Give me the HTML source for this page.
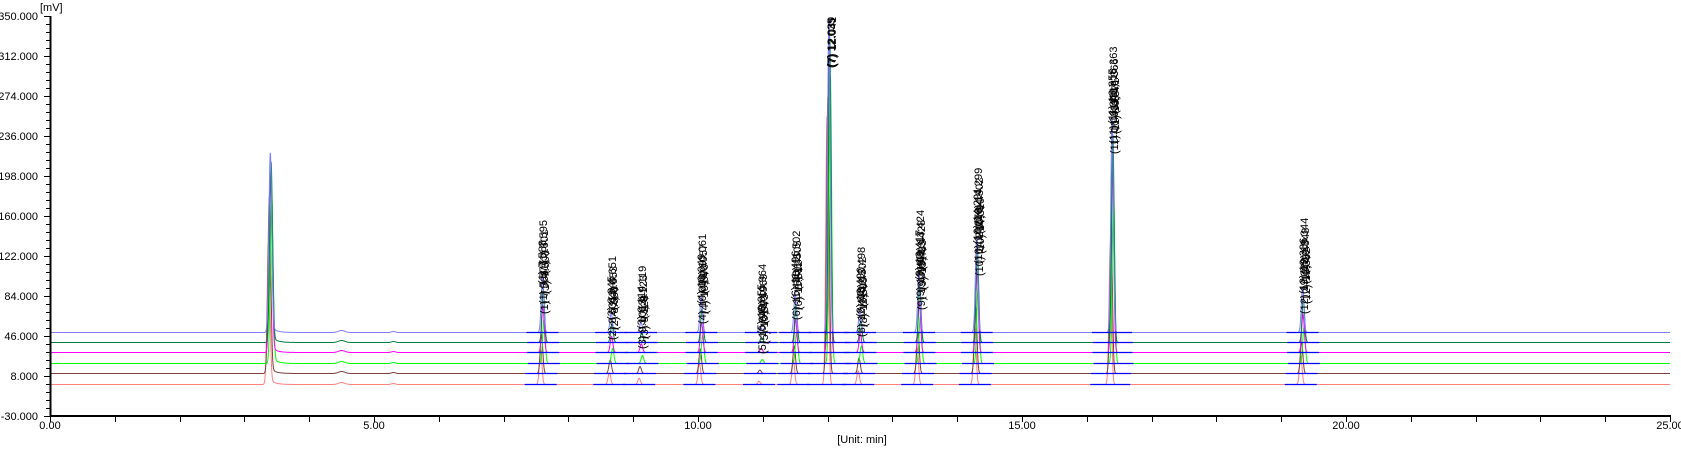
<!DOCTYPE html>
<html><head><meta charset="utf-8"><style>
html,body{margin:0;padding:0;background:#fff;}
svg{display:block;font-family:"Liberation Sans",sans-serif;}
.ax{font-size:11px;fill:#000;}
.pl text{font-size:11px;fill:#000;}
</style></head><body>
<svg id="s" width="1681" height="450" viewBox="0 0 1681 450" xmlns="http://www.w3.org/2000/svg">
<rect width="1681" height="450" fill="#fff"/>
<g id="tr"></g>
<g id="ticks" stroke="#000" stroke-width="1" shape-rendering="crispEdges"></g>
<line x1="50.5" y1="16" x2="50.5" y2="416" stroke="#000" stroke-width="2"/>
<line x1="50" y1="416" x2="1671" y2="416" stroke="#000" stroke-width="2"/>
<g class="ax" text-anchor="end">
<text x="38" y="20">350.000</text>
<text x="38" y="60">312.000</text>
<text x="38" y="100">274.000</text>
<text x="38" y="140">236.000</text>
<text x="38" y="180">198.000</text>
<text x="38" y="220">160.000</text>
<text x="38" y="260">122.000</text>
<text x="38" y="300">84.000</text>
<text x="38" y="340">46.000</text>
<text x="38" y="380">8.000</text>
<text x="38" y="420">-30.000</text>
</g>
<text class="ax" x="40" y="11">[mV]</text>
<g class="ax" text-anchor="middle">
<text x="50" y="429">0.00</text>
<text x="374" y="429">5.00</text>
<text x="698" y="429">10.00</text>
<text x="1022" y="429">15.00</text>
<text x="1346" y="429">20.00</text>
<text x="1670" y="429">25.00</text>
<text x="862" y="443">[Unit: min]</text>
</g>
<g class="pl">
<g transform="translate(547,274)"><text transform="translate(0,-10) rotate(-90)">(1) 7.595</text><text transform="translate(1,0) rotate(-90)">(1) 7.601</text><text transform="translate(-1,10) rotate(-90)">(1) 7.588</text><text transform="translate(2,20) rotate(-90)">(1) 7.603</text><text transform="translate(0,30) rotate(-90)">(1) 7.577</text><text transform="translate(1,40) rotate(-90)">(1) 7.566</text></g>
<g transform="translate(616,310)"><text transform="translate(0,-10) rotate(-90)">(2) 8.651</text><text transform="translate(1,0) rotate(-90)">(2) 8.653</text><text transform="translate(-1,10) rotate(-90)">(2) 8.645</text><text transform="translate(2,20) rotate(-90)">(2) 8.660</text><text transform="translate(0,30) rotate(-90)">(2) 8.631</text></g>
<g transform="translate(646,319)"><text transform="translate(0,-10) rotate(-90)">(3) 9.119</text><text transform="translate(1,0) rotate(-90)">(3) 9.123</text><text transform="translate(-1,10) rotate(-90)">(3) 9.114</text><text transform="translate(2,20) rotate(-90)">(3) 9.128</text><text transform="translate(0,30) rotate(-90)">(3) 9.101</text></g>
<g transform="translate(706,294)"><text transform="translate(0,-10) rotate(-90)">(4) 10.061</text><text transform="translate(1,0) rotate(-90)">(4) 10.057</text><text transform="translate(-1,10) rotate(-90)">(4) 10.049</text><text transform="translate(2,20) rotate(-90)">(4) 10.070</text><text transform="translate(0,30) rotate(-90)">(4) 10.038</text></g>
<g transform="translate(766,324)"><text transform="translate(0,-10) rotate(-90)">(5) 10.964</text><text transform="translate(1,0) rotate(-90)">(5) 10.969</text><text transform="translate(-1,10) rotate(-90)">(5) 10.955</text><text transform="translate(2,20) rotate(-90)">(5) 10.973</text><text transform="translate(0,30) rotate(-90)">(5) 10.940</text></g>
<g transform="translate(800,290)"><text transform="translate(0,-10) rotate(-90)">(6) 11.502</text><text transform="translate(1,0) rotate(-90)">(6) 11.505</text><text transform="translate(-1,10) rotate(-90)">(6) 11.496</text><text transform="translate(2,20) rotate(-90)">(6) 11.512</text><text transform="translate(0,30) rotate(-90)">(6) 11.480</text></g>
<g transform="translate(835,67)"><text transform="rotate(-90)">(7) 12.039</text><text transform="translate(1,0) rotate(-90)">(7) 12.041</text><text transform="translate(0,1) rotate(-90)">(7) 12.035</text></g>
<g transform="translate(865,307)"><text transform="translate(0,-10) rotate(-90)">(8) 12.498</text><text transform="translate(1,0) rotate(-90)">(8) 12.502</text><text transform="translate(-1,10) rotate(-90)">(8) 12.490</text><text transform="translate(2,20) rotate(-90)">(8) 12.509</text><text transform="translate(0,30) rotate(-90)">(8) 12.476</text></g>
<g transform="translate(924,270)"><text transform="translate(0,-10) rotate(-90)">(9) 13.424</text><text transform="translate(1,0) rotate(-90)">(9) 13.428</text><text transform="translate(-1,10) rotate(-90)">(9) 13.417</text><text transform="translate(2,20) rotate(-90)">(9) 13.433</text><text transform="translate(0,30) rotate(-90)">(9) 13.401</text><text transform="translate(1,40) rotate(-90)">(9) 13.395</text></g>
<g transform="translate(982,234)"><text transform="translate(0,-10) rotate(-90)">(10) 14.299</text><text transform="translate(1,0) rotate(-90)">(10) 14.302</text><text transform="translate(-1,10) rotate(-90)">(10) 14.291</text><text transform="translate(2,20) rotate(-90)">(10) 14.310</text><text transform="translate(0,30) rotate(-90)">(10) 14.278</text><text transform="translate(1,42) rotate(-90)">(10) 14.270</text></g>
<g transform="translate(1117,114)"><text transform="translate(0,-12) rotate(-90)">(11) 16.363</text><text transform="translate(1,0) rotate(-90)">(11) 16.366</text><text transform="translate(-1,10) rotate(-90)">(11) 16.355</text><text transform="translate(2,20) rotate(-90)">(11) 16.371</text><text transform="translate(0,30) rotate(-90)">(11) 16.340</text><text transform="translate(1,40) rotate(-90)">(11) 16.333</text></g>
<g transform="translate(1308,284)"><text transform="translate(0,-10) rotate(-90)">(12) 19.344</text><text transform="translate(1,0) rotate(-90)">(12) 19.348</text><text transform="translate(-1,10) rotate(-90)">(12) 19.336</text><text transform="translate(2,20) rotate(-90)">(12) 19.352</text><text transform="translate(0,30) rotate(-90)">(12) 19.320</text></g>
</g>
</svg>
<script>
(function(){
var NS="http://www.w3.org/2000/svg";
function X(t){return 50+64.8*t;}
var tk=document.getElementById('ticks');
function ln(x1,y1,x2,y2,c,w){var l=document.createElementNS(NS,'line');l.setAttribute('x1',x1);l.setAttribute('y1',y1);l.setAttribute('x2',x2);l.setAttribute('y2',y2);if(c)l.setAttribute('stroke',c);if(w)l.setAttribute('stroke-width',w);return l;}
for(var i=0;i<=50;i++){var y=16+i*8;var maj=(i%5==0);tk.appendChild(ln(maj?44:46,y+0.5,50,y+0.5));}
for(var t=0;t<=25;t++){var x=Math.round(X(t))+0.5;tk.appendChild(ln(x,416,x,422));}
var base=[332,342,352,363,373,384];
var cols=['#7f7fff','#00803c','#ff00ff','#00ff00','#7f3f3f','#ff7f7f'];
var fac=[1,0.97,0.85,0.8,0.7,0.62];
var toff=[0,0.012,0.006,0.022,-0.015,-0.028];
var peaks=[[7.60,55],[8.66,19],[9.12,10],[10.05,35],[10.97,5],[11.50,39],[12.02,316],[12.50,22],[13.41,59],[14.30,95],[16.39,215],[19.33,45]];
var solv=[180,181,174,166,177,141];
var tr=document.getElementById('tr');
for(var k=5;k>=0;k--){
  var d='';
  for(var px=50;px<=1670;px+=0.25){
    var t=(px-50)/64.8, v=0;
    var ts=3.4+toff[k];
    v+=solv[k]*Math.exp(-Math.pow((t-ts)/0.022,2)/2);
    if(t>ts) v+=6*Math.exp(-(t-ts)/0.08)*(t-ts>0.03?1:0);
    v+=2*Math.exp(-Math.pow((t-4.5)/0.05,2)/2);
    v+=1*Math.exp(-Math.pow((t-5.3)/0.03,2)/2);
    for(var j=0;j<peaks.length;j++){
      var p=peaks[j];var h=p[1]*fac[k];if(j==6)h=Math.min(p[1]*(1-0.03*k),base[k]-16);
      v+=h*Math.exp(-Math.pow((t-p[0]-toff[k])/0.02,2)/2);
    }
    var y=base[k]+0.5-v;
    d+=(d?'L':'M')+px.toFixed(2)+' '+y.toFixed(2);
  }
  var p=document.createElementNS(NS,'path');p.setAttribute('d',d);p.setAttribute('fill','none');p.setAttribute('stroke',cols[k]);p.setAttribute('stroke-width','1');
  tr.appendChild(p);
}
for(var k=0;k<6;k++){for(var j=0;j<peaks.length;j++){var x=X(peaks[j][0]+toff[k]);var w=(j==6||j==10)?20:16;tr.appendChild(ln(x-w,base[k]+0.5,x+w,base[k]+0.5,'#0000ff',1.3));}}
})();
</script>
</body></html>
